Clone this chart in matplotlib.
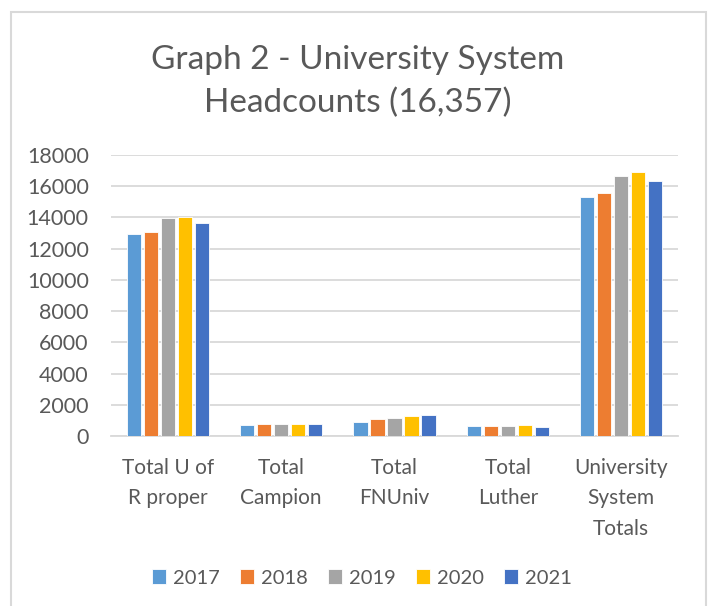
import matplotlib
matplotlib.use("Agg")
import matplotlib.pyplot as plt
from matplotlib.patches import Rectangle
import numpy as np

categories = ["Total U of\nR proper", "Total\nCampion", "Total\nFNUniv", "Total\nLuther", "University\nSystem\nTotals"]
years = ["2017", "2018", "2019", "2020", "2021"]
v2017 = [12960, 680, 915, 660, 15300]
v2018 = [13050, 740, 1085, 640, 15580]
v2019 = [13950, 800, 1150, 660, 16650]
v2020 = [14060, 780, 1300, 680, 16910]
v2021 = [13670, 740, 1320, 580, 16357]
series = [v2017, v2018, v2019, v2020, v2021]
colors = ["#5B9BD5", "#ED7D31", "#A5A5A5", "#FFC000", "#4472C4"]
yticks = list(range(0, 18001, 2000))

plt.rcParams['font.family'] = ['Lato', 'DejaVu Sans']
txt = "#595959"

fig = plt.figure(figsize=(7.12, 6.06), dpi=100)
ax = fig.add_axes([111/712, 1-436/606, (678-111)/712, (436-155)/606])

x = np.arange(len(categories))
pitch = 0.15
width = 0.125
for i, (vals, c, yr) in enumerate(zip(series, colors, years)):
    ax.bar(x + (i - 2) * pitch, vals, width, color=c, label=yr,
           edgecolor="white", linewidth=0.6, zorder=3)

ax.set_xlim(-0.5, len(categories) - 0.5)
ax.set_ylim(0, 18000)
ax.set_yticks(yticks)
ax.set_yticklabels([str(t) for t in yticks], fontsize=15.5, color=txt)
ax.set_xticks(x)
ax.set_xticklabels(categories, fontsize=15, color=txt, linespacing=1.64)
ax.tick_params(axis='both', length=0)
ax.tick_params(axis='y', pad=16)
ax.tick_params(axis='x', pad=16)
ax.grid(axis='y', color="#D9D9D9", linewidth=1.3, zorder=0)
for s in ["top", "right", "left"]:
    ax.spines[s].set_visible(False)
ax.spines["bottom"].set_color("#D9D9D9")
ax.spines["bottom"].set_linewidth(1.3)

fig.text(358/712, 1-82/606, "Graph 2 - University System\nHeadcounts (16,357)",
         ha="center", va="center", fontsize=24, color=txt, linespacing=1.52)

leg = fig.legend(loc="center", bbox_to_anchor=(362/712, 1-578/606), ncol=5,
                 frameon=False, fontsize=14.5, handlelength=0.7, handleheight=0.7,
                 handletextpad=0.35, columnspacing=1.0, labelcolor=txt)

fig.patches.append(Rectangle((10.5/712, -0.05), (706-10.5)/712, 1-11.5/606+0.05,
                             transform=fig.transFigure, fill=False,
                             edgecolor="#D9D9D9", linewidth=1.5))

fig.savefig("out.png", dpi=100)
